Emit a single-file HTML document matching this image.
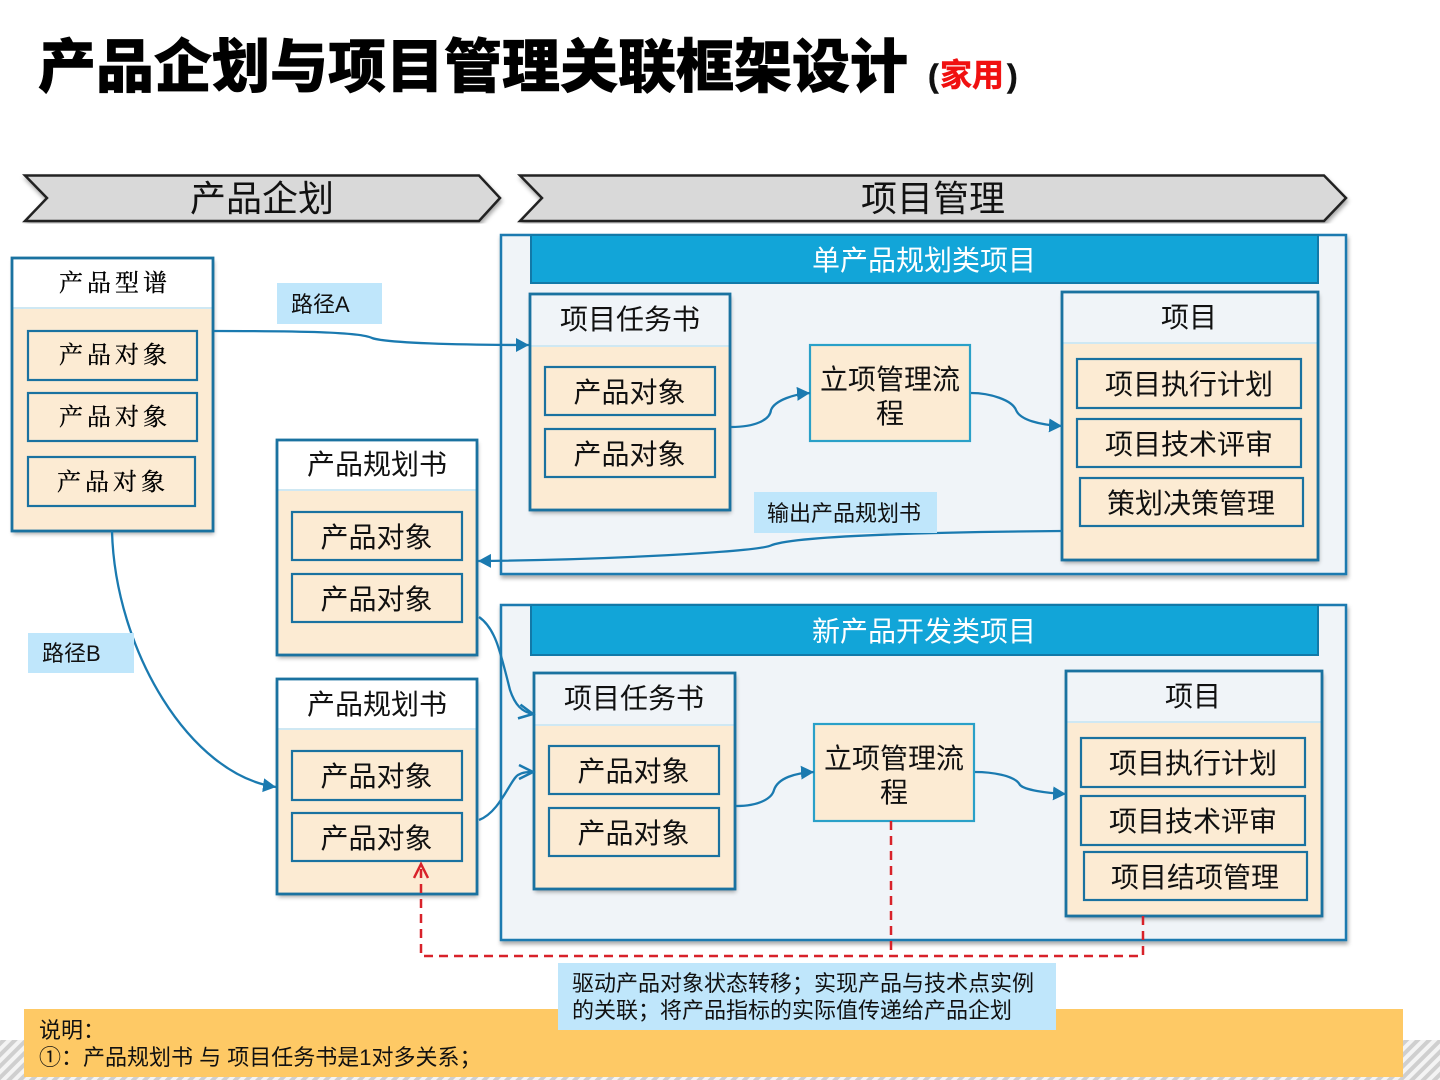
<!DOCTYPE html>
<html><head><meta charset="utf-8"><style>
html,body{margin:0;padding:0;background:#fff}
svg{display:block}
text{font-family:"Liberation Sans","Noto Sans CJK SC",sans-serif;fill:#111}
.m{text-anchor:middle}
.t28{font-size:28px}
.t36{font-size:36px}
.t22{font-size:22px}
.w{fill:#fff}
.s{font-family:"Liberation Serif","Noto Serif CJK SC",serif;font-size:24px;letter-spacing:4px;text-anchor:middle;fill:#000;stroke:#000;stroke-width:.35px}
.b{fill:#fcebd3;stroke:#1a72a0;stroke-width:2.2}
.o{fill:#f0f4f8;stroke:#1a7ab0;stroke-width:2.5}
.h{fill:#12a5d8;stroke:#1279a8;stroke-width:2}
.c{fill:#fcebd3;stroke:none}
.f{fill:none;stroke:#1a72a0;stroke-width:2.8}
.r{fill:none;stroke:#d8222a;stroke-width:2.5;stroke-dasharray:9 6}
.p{fill:#fcebd3;stroke:#2aa0c8;stroke-width:2.2}
.l{fill:#bfe6fb}
.ln{fill:none;stroke:#1a7ab0;stroke-width:2.3}
</style></head><body>
<svg width="1440" height="1080" viewBox="0 0 1440 1080" xmlns="http://www.w3.org/2000/svg">
<defs>
<filter id="sh" x="-5%" y="-5%" width="110%" height="110%"><feDropShadow dx="1" dy="3" stdDeviation="2" flood-color="#000" flood-opacity=".35"/></filter>
<pattern id="hatch" width="8" height="8" patternUnits="userSpaceOnUse" patternTransform="rotate(45)"><rect width="8" height="8" fill="#f4f4f4"/><rect width="4" height="8" fill="#cfcfcf"/></pattern>
<marker id="a" markerUnits="userSpaceOnUse" markerWidth="16" markerHeight="16" refX="13" refY="7" orient="auto"><path d="M0,0L13,7L0,14z" fill="#1a7ab0"/></marker>
<marker id="oa" markerUnits="userSpaceOnUse" markerWidth="18" markerHeight="18" refX="15" refY="8" orient="auto"><path d="M1,1L15,8L1,15" fill="none" stroke="#1a7ab0" stroke-width="2.5"/></marker>
<marker id="ra" markerUnits="userSpaceOnUse" markerWidth="18" markerHeight="18" refX="15" refY="8" orient="auto"><path d="M1,1L15,8L1,15" fill="none" stroke="#d8222a" stroke-width="2.5"/></marker>
</defs>

<rect x="0" y="1040" width="1440" height="40" fill="url(#hatch)"/>

<text x="38" y="87" font-size="58" style="font-weight:900;stroke:#000;stroke-width:.6px;fill:#000">产品企划与项目管理关联框架设计</text>
<text x="928" y="87" font-size="32" style="font-weight:700;fill:#111;stroke:#111;stroke-width:.5px">(</text>
<text x="940" y="86" font-size="32" style="font-weight:700;fill:#f01010;stroke:#f01010;stroke-width:.5px">家用</text>
<text x="1007" y="87" font-size="32" style="font-weight:700;fill:#111;stroke:#111;stroke-width:.5px">)</text>

<polygon points="25,175.5 479,175.5 500,198 479,221 25,221 47,198" fill="#d9d9d9" stroke="#222" stroke-width="2.5" filter="url(#sh)"/>
<polygon points="520,175.5 1324,175.5 1346,198 1324,221 520,221 542,198" fill="#d9d9d9" stroke="#222" stroke-width="2.5" filter="url(#sh)"/>
<text class="m t36" x="262" y="211">产品企划</text>
<text class="m t36" x="933" y="211">项目管理</text>

<rect class="o" x="501" y="235" width="845" height="339" filter="url(#sh)"/>
<rect class="h" x="531" y="235" width="787" height="48"/>
<text class="m t28 w" x="924" y="270">单产品规划类项目</text>
<rect class="o" x="501" y="605" width="845" height="335" filter="url(#sh)"/>
<rect class="h" x="531" y="605" width="787" height="50"/>
<text class="m t28 w" x="924" y="641">新产品开发类项目</text>

<!-- 产品型谱 -->
<rect x="12" y="258" width="201" height="273" fill="#fff" filter="url(#sh)"/>
<rect class="c" x="12" y="308" width="201" height="223"/>
<rect x="12" y="307" width="201" height="2" fill="#cfe8f3"/>
<rect class="f" x="12" y="258" width="201" height="273"/>
<text class="s" x="115" y="291">产品型谱</text>
<rect class="b" x="28" y="331" width="169" height="49"/><text class="s" x="115" y="363">产品对象</text>
<rect class="b" x="28" y="393" width="169" height="48"/><text class="s" x="115" y="425">产品对象</text>
<rect class="b" x="28" y="457" width="167" height="49"/><text class="s" x="113" y="490">产品对象</text>

<!-- 产品规划书 1 -->
<rect x="277" y="440" width="200" height="215" fill="#fff" filter="url(#sh)"/>
<rect class="c" x="277" y="490" width="200" height="165"/>
<rect x="277" y="489" width="200" height="2" fill="#cfe8f3"/>
<rect class="f" x="277" y="440" width="200" height="215"/>
<text class="m t28" x="377" y="474">产品规划书</text>
<rect class="b" x="292" y="512" width="170" height="48"/><text class="m t28" x="376.500" y="547">产品对象</text>
<rect class="b" x="292" y="574" width="170" height="48"/><text class="m t28" x="376.500" y="609">产品对象</text>

<!-- 产品规划书 2 -->
<rect x="277" y="679" width="200" height="215" fill="#fff" filter="url(#sh)"/>
<rect class="c" x="277" y="729" width="200" height="165"/>
<rect x="277" y="728" width="200" height="2" fill="#cfe8f3"/>
<rect class="f" x="277" y="679" width="200" height="215"/>
<text class="m t28" x="377" y="714">产品规划书</text>
<rect class="b" x="292" y="751" width="170" height="49"/><text class="m t28" x="376.500" y="786">产品对象</text>
<rect class="b" x="292" y="813" width="170" height="48"/><text class="m t28" x="376.500" y="848">产品对象</text>

<!-- 项目任务书 1 -->
<rect x="530" y="294" width="200" height="216" fill="#f0f4f8" filter="url(#sh)"/>
<rect class="c" x="530" y="346" width="200" height="164"/>
<rect x="530" y="345" width="200" height="2" fill="#cfe8f3"/>
<rect class="f" x="530" y="294" width="200" height="216"/>
<text class="m t28" x="630" y="329">项目任务书</text>
<rect class="b" x="545" y="367" width="170" height="48"/><text class="m t28" x="629.500" y="402">产品对象</text>
<rect class="b" x="545" y="429" width="170" height="48"/><text class="m t28" x="629.500" y="464">产品对象</text>

<!-- 项目任务书 2 -->
<rect x="534" y="673" width="201" height="216" fill="#f0f4f8" filter="url(#sh)"/>
<rect class="c" x="534" y="725" width="201" height="164"/>
<rect x="534" y="724" width="201" height="2" fill="#cfe8f3"/>
<rect class="f" x="534" y="673" width="201" height="216"/>
<text class="m t28" x="634" y="708">项目任务书</text>
<rect class="b" x="549" y="746" width="170" height="48"/><text class="m t28" x="633.500" y="781">产品对象</text>
<rect class="b" x="549" y="808" width="170" height="48"/><text class="m t28" x="633.500" y="843">产品对象</text>

<!-- 立项 -->
<rect class="p" x="810" y="345" width="160" height="96"/>
<text class="m t28" x="890" y="389">立项管理流</text><text class="m t28" x="890" y="423">程</text>
<rect class="p" x="814" y="724" width="160" height="97"/>
<text class="m t28" x="894" y="768">立项管理流</text><text class="m t28" x="894" y="802">程</text>

<!-- 项目 1 -->
<rect x="1062" y="292" width="256" height="268" fill="#f0f4f8" filter="url(#sh)"/>
<rect class="c" x="1062" y="343" width="256" height="217"/>
<rect x="1062" y="342" width="256" height="2" fill="#cfe8f3"/>
<rect class="f" x="1062" y="292" width="256" height="268"/>
<text class="m t28" x="1189" y="327">项目</text>
<rect class="b" x="1077" y="359" width="224" height="49"/><text class="m t28" x="1189" y="394">项目执行计划</text>
<rect class="b" x="1077" y="419" width="224" height="48"/><text class="m t28" x="1189" y="454">项目技术评审</text>
<rect class="b" x="1080" y="478" width="223" height="48"/><text class="m t28" x="1191" y="513">策划决策管理</text>

<!-- 项目 2 -->
<rect x="1066" y="671" width="256" height="245" fill="#f0f4f8" filter="url(#sh)"/>
<rect class="c" x="1066" y="722" width="256" height="194"/>
<rect x="1066" y="721" width="256" height="2" fill="#cfe8f3"/>
<rect class="f" x="1066" y="671" width="256" height="245"/>
<text class="m t28" x="1193" y="706">项目</text>
<rect class="b" x="1081" y="738" width="224" height="49"/><text class="m t28" x="1193" y="773">项目执行计划</text>
<rect class="b" x="1081" y="796" width="224" height="49"/><text class="m t28" x="1193" y="831">项目技术评审</text>
<rect class="b" x="1084" y="852" width="223" height="48"/><text class="m t28" x="1195" y="887">项目结项管理</text>

<!-- connectors -->
<path class="ln" d="M214,331C300,331 360,332 372,338C385,343 460,345 529,345" marker-end="url(#a)"/>
<path class="ln" d="M112,531C115,650 190,775 276,787" marker-end="url(#a)"/>
<path class="ln" d="M1062,531C950,532 800,535 772,545C760,552 600,560 478,561" marker-end="url(#a)"/>
<path class="ln" d="M479,617C495,628 500,650 510,690C515,705 522,712 533,714" marker-end="url(#oa)"/>
<path class="ln" d="M479,820C500,812 510,780 518,775C523,772 528,772 533,772" marker-end="url(#oa)"/>
<path class="ln" d="M731,427C755,427 770,420 771,410C775,400 795,394 810,393" marker-end="url(#a)"/>
<path class="ln" d="M971,393C990,393 1012,400 1016,410C1020,420 1040,425 1062,426" marker-end="url(#a)"/>
<path class="ln" d="M736,806C760,806 772,798 774,790C778,778 795,773 814,772" marker-end="url(#a)"/>
<path class="ln" d="M975,772C990,772 1015,775 1020,785C1025,790 1045,793 1066,794" marker-end="url(#a)"/>

<path class="r" d="M891,821V956"/>
<path class="r" d="M1143,916V956H421V864" marker-end="url(#ra)"/>

<!-- labels -->
<rect class="l" x="277" y="283" width="105" height="41"/><text class="t22" x="291" y="312">路径A</text>
<rect class="l" x="28" y="633" width="106" height="40"/><text class="t22" x="42" y="661">路径B</text>
<rect class="l" x="754" y="492" width="183" height="41"/><text class="t22" x="767" y="521">输出产品规划书</text>

<!-- footer -->
<rect x="24" y="1009" width="1379" height="68" fill="#fec965"/>
<text class="t22" x="39" y="1038">说明&#xFF1A;</text>
<text class="t22" x="39" y="1065">①&#xFF1A;产品规划书 与 项目任务书是1对多关系&#xFF1B;</text>
<rect class="l" x="558" y="963" width="498" height="67"/>
<text class="t22" x="572" y="991">驱动产品对象状态转移&#xFF1B;实现产品与技术点实例</text>
<text class="t22" x="572" y="1018">的关联&#xFF1B;将产品指标的实际值传递给产品企划</text>
</svg>
</body></html>
